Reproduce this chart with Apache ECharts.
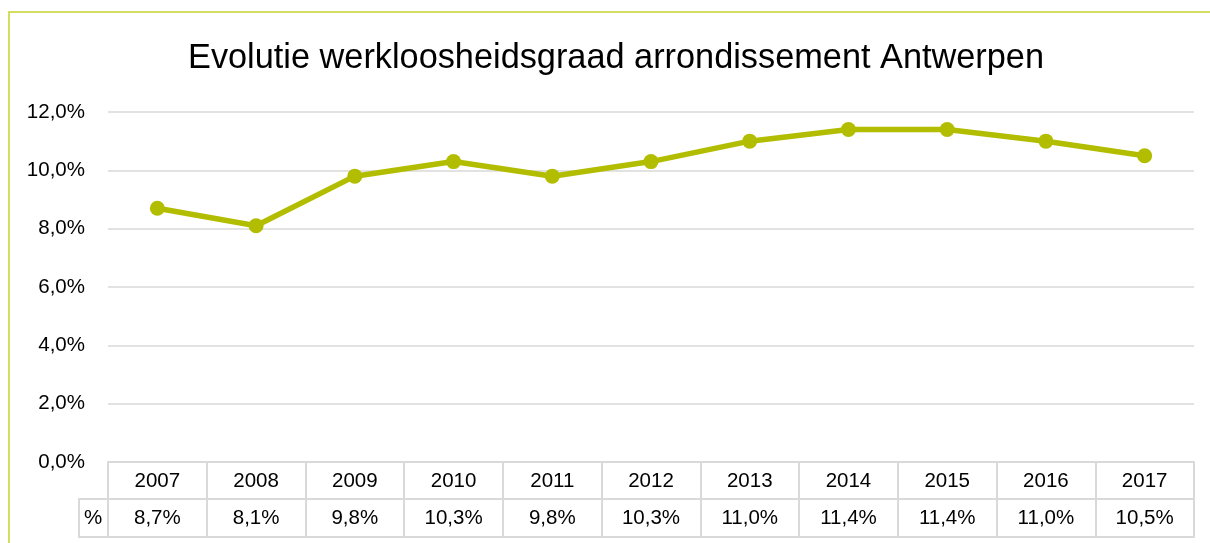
<!DOCTYPE html>
<html>
<head>
    <meta charset="utf-8">
    <title>ECharts</title>
    <script src="https://cdn.jsdelivr.net/npm/echarts@6/dist/echarts.min.js"></script>
</head>
<body style="margin:0">
<div id="main" style="width: 1210px;height:543px;"></div>
</body>

<script type="text/javascript">

    // data
    var years = ['2007', '2008', '2009', '2010', '2011', '2012', '2013', '2014', '2015', '2016', '2017'];
    var werkloosheid = [8.7, 8.1, 9.8, 10.3, 9.8, 10.3, 11.0, 11.4, 11.4, 11.0, 10.5];
    var yTicks = [0, 2, 4, 6, 8, 10, 12];

    var groen = '#b3bd00';
    var lijn = '#d9d9d9';
    var font = '"Liberation Sans", Arial, sans-serif';

    function pct(v) {
        return v.toFixed(1).replace('.', ',') + '%';
    }

    var myChart = echarts.init(document.getElementById('main'));

    myChart.setOption({
        animation: false,
        backgroundColor: '#fff',
        title: {
            text: 'Evolutie werkloosheidsgraad arrondissement Antwerpen',
            left: 188,
            top: 42,
            padding: 0,
            textStyle: {fontFamily: font, fontSize: 34.3, fontWeight: 'normal', color: '#000'}
        },
        grid: {left: 108, right: 16, top: 112, bottom: 81, containLabel: false, outerBoundsMode: 'none'},
        xAxis: [{
            type: 'category',
            data: years,
            boundaryGap: true,
            axisLine: {lineStyle: {color: lijn, width: 2}},
            axisTick: {show: true, interval: 0, length: 75, lineStyle: {color: lijn, width: 2}},
            axisLabel: {interval: 0, margin: 9, fontFamily: font, fontSize: 20.5, lineHeight: 20, color: '#000'}
        }, {
            type: 'category',
            data: werkloosheid.map(pct),
            position: 'bottom',
            offset: 37,
            boundaryGap: true,
            axisLine: {lineStyle: {color: lijn, width: 2}},
            axisTick: {show: false},
            axisLabel: {interval: 0, margin: 9, fontFamily: font, fontSize: 20.5, lineHeight: 20, color: '#000'}
        }, {
            type: 'category',
            data: years,
            position: 'bottom',
            offset: 75,
            axisLine: {lineStyle: {color: lijn, width: 2}},
            axisTick: {show: false},
            axisLabel: {show: false}
        }],
        yAxis: {
            type: 'value',
            min: yTicks[0],
            max: yTicks[yTicks.length - 1],
            interval: 2,
            axisLine: {show: false},
            axisTick: {show: false},
            splitLine: {lineStyle: {color: lijn, width: 1.5}},
            axisLabel: {margin: 23, fontFamily: font, fontSize: 20.5, color: '#000', formatter: pct}
        },
        series: [{
            name: '%',
            type: 'line',
            data: werkloosheid,
            symbol: 'circle',
            symbolSize: 15,
            lineStyle: {color: groen, width: 5.5},
            itemStyle: {color: groen}
        }],
        graphic: [{
            type: 'rect',
            shape: {x: 9, y: 12, width: 1300, height: 700},
            style: {fill: null, stroke: '#c4d22e', lineWidth: 1.5},
            silent: true
        }, {
            type: 'rect',
            shape: {x: 79, y: 499, width: 29, height: 38},
            style: {fill: null, stroke: lijn, lineWidth: 2},
            silent: true
        }, {
            type: 'text',
            x: 93,
            y: 518,
            style: {text: '%', fontFamily: font, fontSize: 20.5, fill: '#000', align: 'center', verticalAlign: 'middle'},
            silent: true
        }]
    });

</script>
</html>
